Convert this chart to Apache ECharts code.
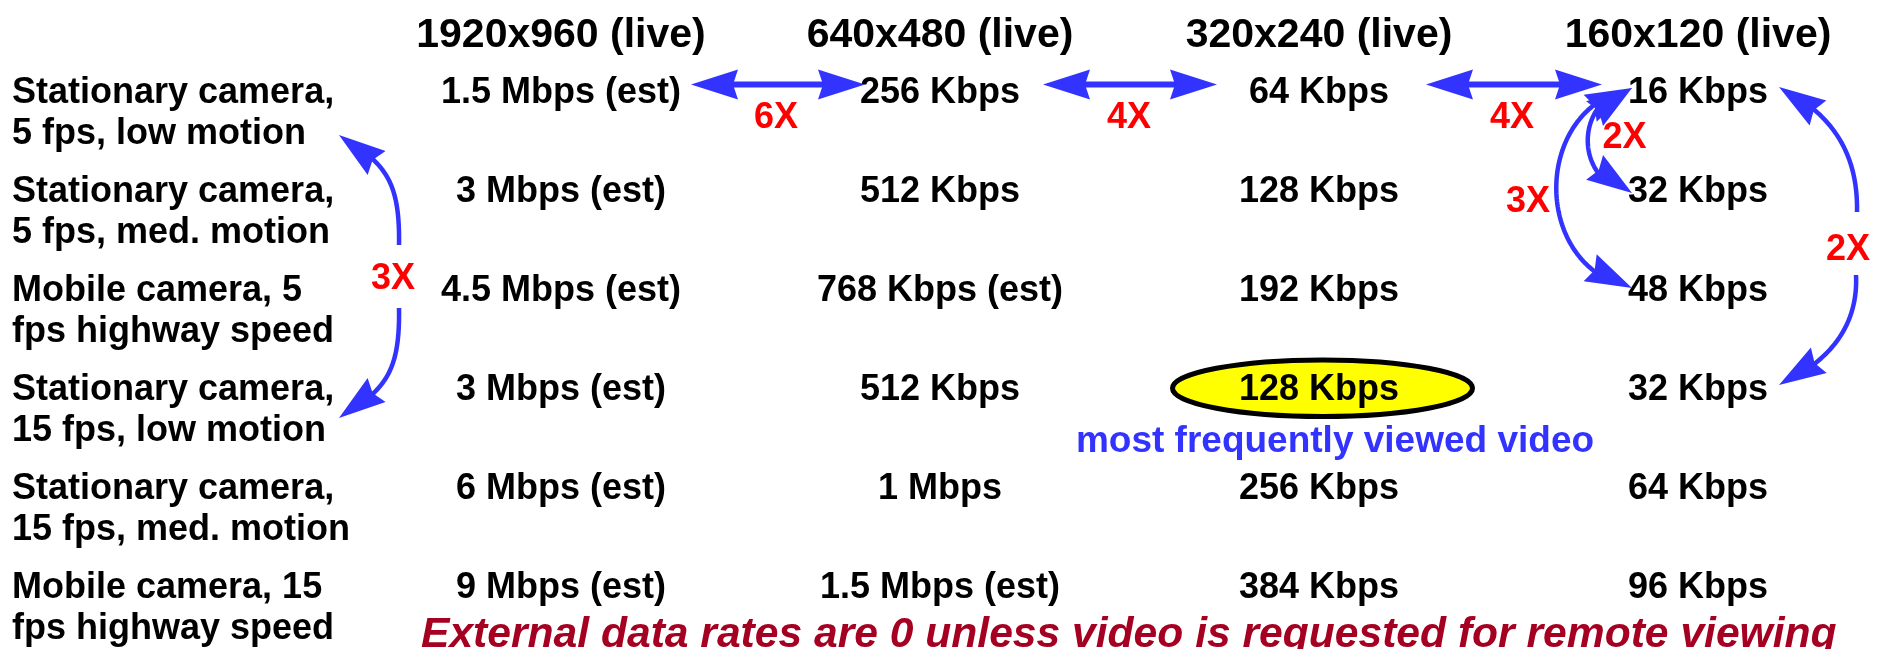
<!DOCTYPE html>
<html>
<head>
<meta charset="utf-8">
<script src="https://cdn.jsdelivr.net/npm/echarts@6/dist/echarts.min.js"></script>
<style>
html,body{margin:0;padding:0;background:#ffffff;}
#chart{width:1881px;height:649px;}
</style>
</head>
<body>
<div id="chart"></div>
<script>
// ---- data ----
const resolutions = ['1920x960 (live)', '640x480 (live)', '320x240 (live)', '160x120 (live)'];
const scenarios = [
  'Stationary camera,\n5 fps, low motion',
  'Stationary camera,\n5 fps, med. motion',
  'Mobile camera, 5\nfps highway speed',
  'Stationary camera,\n15 fps, low motion',
  'Stationary camera,\n15 fps, med. motion',
  'Mobile camera, 15\nfps highway speed'
];
const rate1920 = ['1.5 Mbps (est)', '3 Mbps (est)', '4.5 Mbps (est)', '3 Mbps (est)', '6 Mbps (est)', '9 Mbps (est)'];
const rate640  = ['256 Kbps', '512 Kbps', '768 Kbps (est)', '512 Kbps', '1 Mbps', '1.5 Mbps (est)'];
const rate320  = ['64 Kbps', '128 Kbps', '192 Kbps', '128 Kbps', '256 Kbps', '384 Kbps'];
const rate160  = ['16 Kbps', '32 Kbps', '48 Kbps', '32 Kbps', '64 Kbps', '96 Kbps'];
const highlightCell = [2, 3];   // 320x240 column, "Stationary camera, 15 fps, low motion" row
const highlightNote = 'most frequently viewed video';
const footnote = 'External data rates are 0 unless video is requested for remote viewing';
const ratioLabels = ['6X', '4X', '4X', '2X', '3X', '2X', '3X'];
const ratioLabelPos = [[0.5673, 0.0758], [1.4984, 0.0758], [2.5092, 0.0758], [2.8061, 0.2727], [2.5515, 0.9192], [3.3958, 1.4040], [-0.4433, 1.697]];
// arrows in column/row units: straight (2 points) or cubic (4 points); heads [start, end]
const arrowPaths = [
  { pts: [[0.3430, -0.2374], [0.8021, -0.2374]], heads: [true, true], w: 6 },
  { pts: [[1.2718, -0.2374], [1.7309, -0.2374]], heads: [true, true], w: 6 },
  { pts: [[2.2823, -0.2374], [2.7467, -0.2374]], heads: [true, true], w: 6 },
  { pts: [[-0.4274, 1.3838], [-0.4248, 0.7273], [-0.4644, 0.5556], [-0.5858, 0.2727]], heads: [false, true], w: 4.5 },
  { pts: [[-0.4274, 2.0202], [-0.4248, 2.6768], [-0.4644, 2.8485], [-0.5858, 3.1313]], heads: [false, true], w: 4.5 },
  { pts: [[3.4195, 1.0505], [3.4222, 0.5253], [3.3694, 0.0808], [3.2137, -0.2121]], heads: [false, true], w: 4.5 },
  { pts: [[3.4169, 1.6869], [3.4222, 2.1212], [3.3694, 2.5253], [3.2137, 2.7980]], heads: [false, true], w: 4.5 },
  { pts: [[2.8259, -0.2020], [2.5594, 0.0], [2.5594, 1.6162], [2.8259, 1.8182]], heads: [true, true], w: 4.5 },
  { pts: [[2.8259, -0.2020], [2.6702, -0.1010], [2.6702, 0.7576], [2.8259, 0.8586]], heads: [true, true], w: 4.5 }
];

// ---- build ----
const FONT = '"Liberation Sans", Arial, Helvetica, sans-serif';
const BLUE = '#3333FF';
const columns = [rate1920, rate640, rate320, rate160];
const cellData = [];
columns.forEach((col, ci) => col.forEach((txt, ri) => cellData.push([ci, ri, txt])));

const HEAD_LEN = 47, HEAD_HW = 15, HEAD_NOTCH = 5;
function samplePath(P) {
  if (P.length === 2) return [P[0].slice(), P[1].slice()];
  const out = [], N = 100;
  for (let i = 0; i <= N; i++) {
    const t = i / N, u = 1 - t;
    const b0 = u * u * u, b1 = 3 * u * u * t, b2 = 3 * u * t * t, b3 = t * t * t;
    out.push([b0 * P[0][0] + b1 * P[1][0] + b2 * P[2][0] + b3 * P[3][0],
              b0 * P[0][1] + b1 * P[1][1] + b2 * P[2][1] + b3 * P[3][1]]);
  }
  return out;
}
function totalLen(pts) {
  let s = 0;
  for (let i = 1; i < pts.length; i++) s += Math.hypot(pts[i][0] - pts[i - 1][0], pts[i][1] - pts[i - 1][1]);
  return s;
}
function pointAt(pts, d) {
  let acc = 0;
  for (let i = 1; i < pts.length; i++) {
    const dx = pts[i][0] - pts[i - 1][0], dy = pts[i][1] - pts[i - 1][1];
    const seg = Math.hypot(dx, dy);
    if (acc + seg >= d && seg > 0) {
      const f = (d - acc) / seg;
      return { pt: [pts[i - 1][0] + dx * f, pts[i - 1][1] + dy * f], idx: i };
    }
    acc += seg;
  }
  return { pt: pts[pts.length - 1].slice(), idx: pts.length - 1 };
}
function headPoly(tip, base) {
  let dx = tip[0] - base[0], dy = tip[1] - base[1];
  const L = Math.hypot(dx, dy) || 1; dx /= L; dy /= L;
  const px = -dy, py = dx;
  return [tip,
    [base[0] + px * HEAD_HW, base[1] + py * HEAD_HW],
    [base[0] + dx * HEAD_NOTCH, base[1] + dy * HEAD_NOTCH],
    [base[0] - px * HEAD_HW, base[1] - py * HEAD_HW]];
}
function renderArrow(params, api) {
  const a = arrowPaths[params.dataIndex];
  const P = a.pts.map(p => api.coord(p));
  const pts = samplePath(P);
  const total = totalLen(pts);
  const cut0 = a.heads[0] ? HEAD_LEN * 0.75 : 0;
  const cut1 = a.heads[1] ? HEAD_LEN * 0.75 : 0;
  const s = pointAt(pts, cut0), e = pointAt(pts, total - cut1);
  const shaft = [s.pt];
  for (let i = s.idx; i < e.idx; i++) shaft.push(pts[i]);
  shaft.push(e.pt);
  const children = [{
    type: 'polyline', shape: { points: shaft },
    style: { stroke: BLUE, lineWidth: a.w, fill: null, lineCap: 'butt', lineJoin: 'round' }
  }];
  if (a.heads[0]) {
    children.push({ type: 'polygon', shape: { points: headPoly(pts[0], pointAt(pts, HEAD_LEN).pt) }, style: { fill: BLUE } });
  }
  if (a.heads[1]) {
    children.push({ type: 'polygon', shape: { points: headPoly(pts[pts.length - 1], pointAt(pts, total - HEAD_LEN).pt) }, style: { fill: BLUE } });
  }
  return { type: 'group', children };
}
function renderHighlight(params, api) {
  const c = api.coord([api.value(0), api.value(1)]);
  return {
    type: 'ellipse',
    shape: { cx: c[0] + 3.5, cy: c[1] - 16.7, rx: 150, ry: 28.3 },
    style: { fill: '#FFFF00', stroke: '#000000', lineWidth: 5 }
  };
}

const chart = echarts.init(document.getElementById('chart'), null, { renderer: 'canvas' });
chart.setOption({
  backgroundColor: '#ffffff',
  animation: false,
  textStyle: { fontFamily: FONT },
  grid: { left: 561, right: 183, top: 108, bottom: 46, containLabel: false, outerBoundsMode: 'none' },
  xAxis: {
    type: 'value', min: 0, max: 3, interval: 1, position: 'top',
    axisLine: { show: false }, axisTick: { show: false }, splitLine: { show: false },
    axisLabel: {
      formatter: v => resolutions[Math.round(v)] || '',
      margin: 72, verticalAlign: 'middle',
      fontSize: 41, fontWeight: 'bold', color: '#000', fontFamily: FONT
    }
  },
  yAxis: {
    type: 'value', min: 0, max: 5, interval: 1, inverse: true,
    axisLine: { show: false }, axisTick: { show: false }, splitLine: { show: false },
    axisLabel: {
      formatter: v => {
        const s = scenarios[Math.round(v)];
        if (!s) return '';
        return '{sp| }\n' + s.split('\n').map(l => '{a|' + l + '}').join('\n');
      },
      align: 'left', margin: 549,
      fontSize: 36, fontWeight: 'bold', color: '#000', fontFamily: FONT,
      rich: {
        a: { fontSize: 36, fontWeight: 'bold', color: '#000', fontFamily: FONT, lineHeight: 41, align: 'left' },
        sp: { fontSize: 1, lineHeight: 12 }
      }
    }
  },
  graphic: [
    { type: 'text', x: 1335, y: 442, silent: true,
      style: { text: highlightNote, fill: BLUE, font: 'bold 37px ' + FONT,
               align: 'center', verticalAlign: 'middle', textAlign: 'center', textVerticalAlign: 'middle' } },
    { type: 'text', x: 421, y: 635, silent: true,
      style: { text: footnote, fill: '#A50021', font: 'italic bold 42.6px ' + FONT,
               align: 'left', verticalAlign: 'middle', textAlign: 'left', textVerticalAlign: 'middle' } }
  ],
  series: [
    {
      type: 'custom', name: 'highlight', z: 1, clip: false, silent: true,
      coordinateSystem: 'cartesian2d',
      data: [highlightCell],
      encode: { x: 0, y: 1 },
      renderItem: renderHighlight
    },
    {
      type: 'scatter', name: 'rates', z: 3, clip: false, silent: true,
      data: cellData, symbolSize: 1,
      itemStyle: { color: 'rgba(0,0,0,0)', opacity: 1 },
      label: {
        show: true, position: 'inside', offset: [0, -14.5],
        formatter: p => p.value[2],
        fontSize: 36, fontWeight: 'bold', color: '#000', opacity: 1, fontFamily: FONT
      }
    },
    {
      type: 'custom', name: 'arrows', z: 4, clip: false, silent: true,
      coordinateSystem: 'cartesian2d',
      data: arrowPaths.map(a => a.pts[0]),
      encode: { x: 0, y: 1 },
      renderItem: renderArrow
    },
    {
      type: 'scatter', name: 'ratios', z: 5, clip: false, silent: true,
      data: ratioLabelPos.map((p, i) => [p[0], p[1], ratioLabels[i]]),
      symbolSize: 1, itemStyle: { color: 'rgba(0,0,0,0)', opacity: 1 },
      label: {
        show: true, position: 'inside', offset: [0, 3],
        formatter: p => p.value[2],
        fontSize: 36, fontWeight: 'bold', color: '#FF0000', opacity: 1, fontFamily: FONT
      }
    }
  ]
});
</script>
</body>
</html>
